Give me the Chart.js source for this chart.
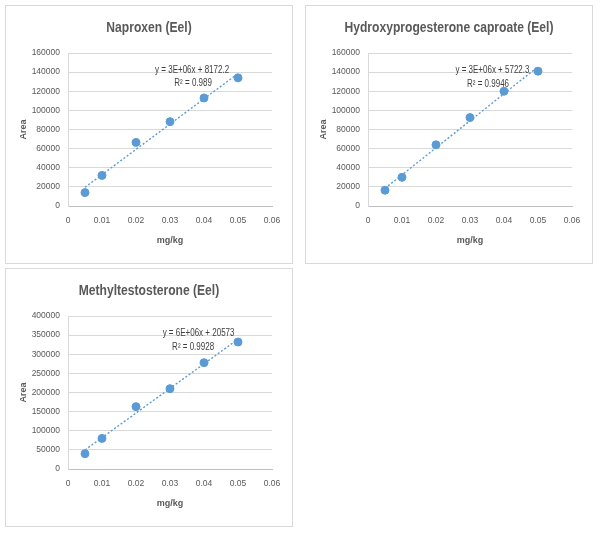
<!DOCTYPE html>
<html>
<head>
<meta charset="utf-8">
<script src="https://cdn.jsdelivr.net/npm/chart.js@4"></script>
<style>
  body { margin: 0; background: #fff; width: 601px; height: 535px; position: relative; overflow: hidden; }
  .panel { position: absolute; width: 286px; height: 257px; border: 1px solid #d9d9d9; background: #fff; }
  .panel canvas { display: block; }
</style>
</head>
<body>
<div class="panel" style="left:5px;top:5px"><canvas id="naproxen" width="286" height="257"></canvas></div>
<div class="panel" style="left:305px;top:5px"><canvas id="hydroxy" width="286" height="257"></canvas></div>
<div class="panel" style="left:5px;top:268px"><canvas id="methyl" width="286" height="257"></canvas></div>
<script>
// concentrations (mg/kg) shared by all three curves
const concentrations = [0.005, 0.01, 0.02, 0.03, 0.04, 0.05];

const naproxenArea = [14000, 32000, 66500, 88200, 113000, 134000];
const hydroxyArea = [16500, 30000, 64000, 92500, 120000, 141000];
const methylArea = [40000, 80000, 163000, 210000, 278000, 332000];

const naproxenEq = ['y = 3E+06x + 8172.2', 'R\u00b2 = 0.989'];
const hydroxyEq = ['y = 3E+06x + 5722.3', 'R\u00b2 = 0.9946'];
const methylEq = ['y = 6E+06x + 20573', 'R\u00b2 = 0.9928'];

const FONT = "'Liberation Sans', Arial, sans-serif";
const BLUE = '#5b9bd5';
const TEXT = '#595959';

function linearFit(xs, ys) {
  const n = xs.length;
  const mx = xs.reduce((a, b) => a + b, 0) / n;
  const my = ys.reduce((a, b) => a + b, 0) / n;
  let sxy = 0, sxx = 0;
  for (let i = 0; i < n; i++) {
    sxy += (xs[i] - mx) * (ys[i] - my);
    sxx += (xs[i] - mx) * (xs[i] - mx);
  }
  const a = sxy / sxx;
  return { a: a, b: my - a * mx };
}

// text squeezed sideways a bit, the original uses a narrow font
function narrowText(ctx, text, x, y, squeeze) {
  ctx.save();
  ctx.translate(x, y);
  ctx.scale(squeeze, 1);
  ctx.fillText(text, 0, 0);
  ctx.restore();
}

// chart title + trendline equation
const labelsPlugin = {
  id: 'labels',
  afterDatasetsDraw(chart, args, opts) {
    const ctx = chart.ctx;
    const xs = chart.scales.x, ys = chart.scales.y;
    ctx.save();
    ctx.textAlign = 'center';
    ctx.textBaseline = 'middle';

    ctx.fillStyle = TEXT;
    ctx.font = 'bold 15.5px ' + FONT;
    narrowText(ctx, opts.title, chart.width / 2, 22, 0.78);

    ctx.fillStyle = '#404040';
    ctx.font = '10px ' + FONT;
    opts.lines.forEach((t, i) => {
      const p = opts.at[i];
      narrowText(ctx, t, xs.getPixelForValue(p[0]), ys.getPixelForValue(p[1]), 0.8);
    });
    ctx.restore();
  }
};

function makeChart(id, title, areas, yMax, yStep, eq, eqAt) {
  const fit = linearFit(concentrations, areas);
  const ends = [concentrations[0], concentrations[concentrations.length - 1]];

  new Chart(document.getElementById(id), {
    type: 'scatter',
    data: {
      datasets: [
        {
          data: concentrations.map((x, i) => ({ x: x, y: areas[i] })),
          backgroundColor: BLUE,
          borderColor: BLUE,
          pointRadius: 4,
          order: 1
        },
        {
          type: 'line',
          data: ends.map(x => ({ x: x, y: fit.a * x + fit.b })),
          borderColor: BLUE,
          borderWidth: 1.4,
          borderDash: [2, 2],
          pointRadius: 0,
          fill: false,
          order: 2
        }
      ]
    },
    options: {
      responsive: false,
      animation: false,
      layout: { padding: { left: 0, right: 20, top: 47, bottom: 0 } },
      plugins: {
        legend: { display: false },
        tooltip: { enabled: false },
        title: { display: false },
        labels: { title: title, lines: eq, at: eqAt }
      },
      scales: {
        x: {
          type: 'linear',
          min: 0,
          max: 0.06,
          ticks: {
            stepSize: 0.01,
            color: TEXT,
            font: { family: FONT, size: 8.5 },
            padding: 10,
            callback: v => String(+v.toFixed(2))
          },
          grid: { display: false, drawTicks: false },
          border: { color: '#bfbfbf' },
          title: {
            display: true,
            text: 'mg/kg',
            color: TEXT,
            font: { family: FONT, size: 9, weight: 'bold' },
            padding: { top: 8, bottom: 17 }
          },
          afterFit: s => { s.height = 57; }
        },
        y: {
          min: 0,
          max: yMax,
          ticks: {
            stepSize: yStep,
            color: TEXT,
            font: { family: FONT, size: 8.5 },
            padding: 8,
            callback: v => String(v)
          },
          grid: { color: '#d9d9d9', drawTicks: false },
          border: { color: '#d9d9d9' },
          title: {
            display: true,
            text: 'Area',
            color: TEXT,
            font: { family: FONT, size: 9, weight: 'bold' },
            padding: { top: 12, bottom: 4 }
          },
          afterFit: s => { s.width = 62; }
        }
      }
    },
    plugins: [labelsPlugin]
  });
}

makeChart('naproxen', 'Naproxen (Eel)', naproxenArea, 160000, 20000,
  naproxenEq, [[0.0365, 142200], [0.0368, 128600]]);
makeChart('hydroxy', 'Hydroxyprogesterone caproate (Eel)', hydroxyArea, 160000, 20000,
  hydroxyEq, [[0.0366, 142200], [0.0353, 127600]]);
makeChart('methyl', 'Methyltestosterone (Eel)', methylArea, 400000, 50000,
  methylEq, [[0.0384, 355800], [0.0368, 319500]]);
</script>
</body>
</html>
